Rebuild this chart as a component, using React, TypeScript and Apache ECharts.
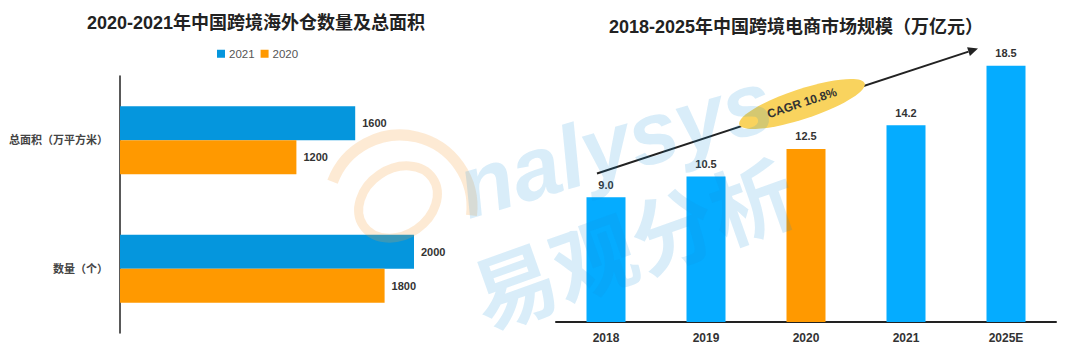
import React, { useEffect, useRef } from "react";
import * as echarts from "echarts";

// Left chart data
const leftCategories = ["数量（个）", "总面积（万平方米）"];
const leftSeriesNames = ["2021", "2020"];
const left2021 = [2000, 1600];
const left2020 = [1800, 1200];

// Right chart data
const rightCategories = ["2018", "2019", "2020", "2021", "2025E"];
const rightValues = [9.0, 10.5, 12.5, 14.2, 18.5];
const rightHighlight = "2020";
const cagrText = "CAGR 10.8%";

const FONT = "'Liberation Sans', Arial, 'Noto Sans CJK SC', sans-serif";
const BLUE_L = "#0596DD";
const BLUE_R = "#05ACFF";
const ORANGE = "#FF9900";

export default function App() {
  const ref = useRef<HTMLDivElement>(null);
  useEffect(() => {
    if (!ref.current) return;
    const chart = echarts.init(ref.current, undefined, { renderer: "svg" });

    // arrow geometry (annotation)
    const x1 = 597, y1 = 173.5, tx = 978, ty = 48.5;
    const len = Math.hypot(tx - x1, ty - y1);
    const ux = (tx - x1) / len, uy = (ty - y1) / len;
    const bx = tx - 10 * ux, by = ty - 10 * uy;
    const nx = -uy, ny = ux;
    const ang = Math.atan2(y1 - ty, tx - x1);

    const wmBlue = "rgba(20,140,215,0.16)";
    const wmOrange = "rgba(245,160,60,0.22)";

    const option: any = {
      animation: false,
      textStyle: { fontFamily: FONT },
      title: [
        {
          text: "2020-2021年中国跨境海外仓数量及总面积",
          left: 251,
          textAlign: "center",
          top: 9,
          textStyle: { fontSize: 18, fontWeight: "bold", color: "#222", fontFamily: FONT },
        },
        {
          text: "2018-2025年中国跨境电商市场规模（万亿元）",
          left: 791,
          textAlign: "center",
          top: 13,
          textStyle: { fontSize: 18, fontWeight: "bold", color: "#222", fontFamily: FONT },
        },
      ],
      legend: {
        data: leftSeriesNames,
        left: 212,
        top: 43,
        itemWidth: 8,
        itemHeight: 8,
        itemGap: 6,
        icon: "rect",
        textStyle: { fontSize: 11.5, color: "#555", fontFamily: FONT, padding: [0, 0, 0, -1] },
      },
      grid: [
        { left: 120, top: 76, width: 367.5, height: 257, containLabel: false },
        { left: 556, width: 500, top: 45, bottom: 30, containLabel: false },
      ],
      xAxis: [
        { gridIndex: 0, type: "value", min: 0, max: 2500, show: false },
        {
          gridIndex: 1,
          type: "category",
          data: rightCategories,
          axisLine: { lineStyle: { color: "#222", width: 2 } },
          axisTick: { show: false },
          axisLabel: { fontSize: 12, fontWeight: "bold", color: "#333", margin: 10, fontFamily: FONT },
        },
      ],
      yAxis: [
        {
          gridIndex: 0,
          type: "category",
          data: leftCategories,
          axisLine: { lineStyle: { color: "#222", width: 1.5 } },
          axisTick: { show: false },
          axisLabel: { fontSize: 11, fontWeight: "bold", color: "#444", margin: 12, fontFamily: FONT },
        },
        { gridIndex: 1, type: "value", min: 0, max: 20, show: false },
      ],
      series: [
        {
          name: leftSeriesNames[0],
          type: "bar",
          xAxisIndex: 0,
          yAxisIndex: 0,
          data: left2021,
          barGap: "0%",
          barCategoryGap: "47%",
          itemStyle: { color: BLUE_L },
          label: { show: true, position: "right", distance: 7, fontSize: 11, fontWeight: "bold", color: "#333", fontFamily: FONT },
        },
        {
          name: leftSeriesNames[1],
          type: "bar",
          xAxisIndex: 0,
          yAxisIndex: 0,
          data: left2020,
          barGap: "0%",
          barCategoryGap: "47%",
          itemStyle: { color: ORANGE },
          label: { show: true, position: "right", distance: 7, fontSize: 11, fontWeight: "bold", color: "#333", fontFamily: FONT },
        },
        {
          name: "市场规模",
          type: "bar",
          xAxisIndex: 1,
          yAxisIndex: 1,
          barWidth: 39,
          data: rightValues.map((v, i) => ({
            value: v,
            itemStyle: { color: rightCategories[i] === rightHighlight ? ORANGE : BLUE_R },
          })),
          label: {
            show: true,
            position: "top",
            distance: 7,
            fontSize: 11,
            fontWeight: "bold",
            color: "#333",
            fontFamily: FONT,
            formatter: (p: any) => Number(p.value).toFixed(1),
          },
        },
      ],
      graphic: [
        // arrow
        {
          type: "line",
          z: 5,
          shape: { x1, y1, x2: bx, y2: by },
          style: { stroke: "#222", lineWidth: 2 },
        },
        {
          type: "polygon",
          z: 5,
          shape: {
            points: [
              [tx, ty],
              [bx + 4.5 * nx, by + 4.5 * ny],
              [bx - 4.5 * nx, by - 4.5 * ny],
            ],
          },
          style: { fill: "#222" },
        },
        {
          type: "ellipse",
          z: 6,
          x: 802,
          y: 104,
          rotation: ang,
          shape: { cx: 0, cy: 0, rx: 66, ry: 15 },
          style: { fill: "#F9D35E" },
        },
        {
          type: "text",
          z: 7,
          x: 802,
          y: 103,
          rotation: ang,
          style: {
            text: cagrText,
            font: `bold 12px ${FONT}`,
            fill: "#333",
            textAlign: "center",
            textVerticalAlign: "middle",
          },
        },
        // watermark
        {
          type: "arc",
          z: 20,
          silent: true,
          shape: { cx: 400, cy: 207, r: 72, startAngle: 3.5, endAngle: 6.4, clockwise: true },
          style: { stroke: wmOrange, lineWidth: 11, fill: "none" },
        },
        {
          type: "ellipse",
          z: 20,
          silent: true,
          x: 398,
          y: 202,
          rotation: 0.6,
          shape: { cx: 0, cy: 0, rx: 42, ry: 33 },
          style: { stroke: wmOrange, lineWidth: 9, fill: "none" },
        },
        {
          type: "text",
          z: 20,
          silent: true,
          x: 460,
          y: 190,
          rotation: 0.29,
          style: {
            text: "nalysys",
            font: `italic bold 88px ${FONT}`,
            fill: wmBlue,
            textAlign: "left",
            textVerticalAlign: "middle",
          },
        },
        {
          type: "text",
          z: 20,
          silent: true,
          x: 632,
          y: 240,
          rotation: 0.342,
          style: {
            text: "易观分析",
            font: `bold 84px 'Noto Sans CJK SC', sans-serif`,
            fill: wmBlue,
            textAlign: "center",
            textVerticalAlign: "middle",
          },
        },
      ],
    };
    chart.setOption(option);
    return () => chart.dispose();
  }, []);
  return (
    <div
      ref={ref}
      style={{ position: "absolute", left: 0, top: 0, width: 1080, height: 352, background: "#fff" }}
    />
  );
}
